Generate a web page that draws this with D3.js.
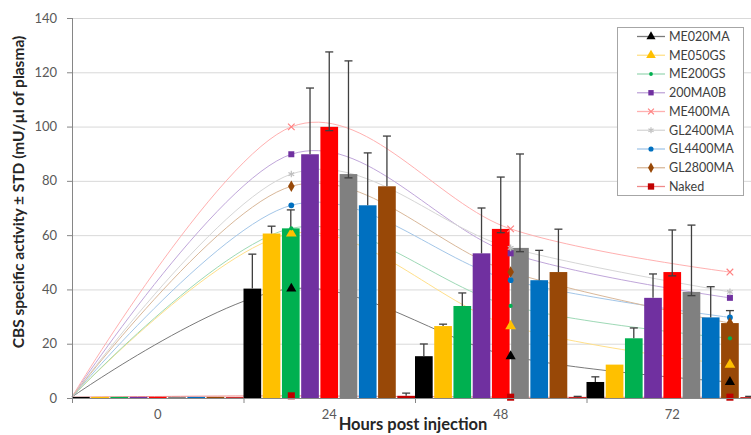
<!DOCTYPE html>
<html><head><meta charset="utf-8">
<script src="https://cdn.jsdelivr.net/npm/d3@7"></script>
<style>
body{margin:0;background:#fff}
svg{display:block}
text{font-family:Lato,"Open Sans",sans-serif}
</style>
</head><body>
<svg id="chart" width="751" height="435"></svg>
<script>
// ---------- data ----------
const hours = [0, 24, 48, 72];
const hourLabels = ["0", "24", "48", "72"];
const seriesNames = ["ME020MA","ME050GS","ME200GS","200MA0B","ME400MA","GL2400MA","GL4400MA","GL2800MA","Naked"];

const meanME020MA  = [0.4, 40.3, 15.4, 5.9];
const meanME050GS  = [0.4, 60.6, 26.5, 12.3];
const meanME200GS  = [0.4, 62.5, 33.9, 22.0];
const mean200MA0B  = [0.4, 89.8, 53.3, 36.9];
const meanME400MA  = [0.4, 99.9, 62.3, 46.4];
const meanGL2400MA = [0.4, 82.5, 55.3, 39.1];
const meanGL4400MA = [0.4, 71.0, 43.4, 29.7];
const meanGL2800MA = [0.4, 78.0, 46.4, 27.6];
const meanNaked    = [0.3, 0.8, 0.3, 0.3];

const stdME020MA  = [0, 12.7, 4.5, 1.9];
const stdME050GS  = [0, 2.7, 0.7, 0];
const stdME200GS  = [0, 6.8, 4.8, 3.8];
const std200MA0B  = [0, 24.4, 16.7, 8.8];
const stdME400MA  = [0, 27.6, 19.1, 15.5];
const stdGL2400MA = [0, 41.7, 34.6, 24.6];
const stdGL4400MA = [0, 19.3, 11.0, 11.3];
const stdGL2800MA = [0, 18.5, 15.8, 4.6];
const stdNaked    = [0, 1.0, 0.3, 0.3];

const yTicks = [0, 20, 40, 60, 80, 100, 120, 140];

// ---------- style ----------
const means = [meanME020MA,meanME050GS,meanME200GS,mean200MA0B,meanME400MA,meanGL2400MA,meanGL4400MA,meanGL2800MA,meanNaked];
const stds  = [stdME020MA,stdME050GS,stdME200GS,std200MA0B,stdME400MA,stdGL2400MA,stdGL4400MA,stdGL2800MA,stdNaked];
const barColors  = ["#000000","#FFC000","#00B050","#7030A0","#FF0000","#808080","#0070C0","#984807","#C00000"];
const lineColors = ["#7a7a7a","#FFE08A","#9ED9B6","#C0A6DA","#FFB0B0","#D6D6D6","#A3C6E8","#D9B89A","#F08A8A"];
const markerColors = ["#000000","#FFC000","#00B050","#7030A0","#FF8080","#BFBFBF","#0070C0","#984807","#C00000"];
const markerTypes = ["triangle","triangle","circle","square","times","asterisk","circle","diamond","square"];
const markerSizes = [45, 50, 14, 36, 30, 30, 26, 38, 50];
const capBelow = ["ME400MA","GL2400MA"];

const svg = d3.select("#chart");
const pLeft = 72, pRight = 758, pTop = 18, pBottom = 398;

const y = d3.scaleLinear().domain([0, 140]).range([pBottom, pTop]);
const x0 = d3.scaleBand().domain(hourLabels).range([pLeft, pRight]).padding(0);
const x1 = d3.scaleBand().domain(seriesNames).range([0, x0.bandwidth()]).paddingInner(0.08).paddingOuter(0);
const lx = d3.scaleLinear().domain([0, 72])
  .range([pLeft, x0("72") + x1("GL2800MA") + x1.bandwidth() / 2]);

// gridlines
svg.append("g").selectAll("line").data(yTicks.filter(t => t > 0)).join("line")
  .attr("x1", pLeft).attr("x2", 751)
  .attr("y1", d => y(d) + 0.5).attr("y2", d => y(d) + 0.5)
  .attr("stroke", "#d9d9d9").attr("stroke-width", 1);

// smoothed lines (behind bars)
const lineGen = d3.line()
  .x((v, i) => lx(hours[i]))
  .y(v => y(v))
  .curve(d3.curveCatmullRom.alpha(0));
svg.append("g").selectAll("path").data(seriesNames).join("path")
  .attr("d", (s, k) => lineGen(means[k]))
  .attr("fill", "none")
  .attr("stroke", (s, k) => lineColors[k])
  .attr("stroke-width", 1);

// bars
const barData = [];
seriesNames.forEach((s, k) => hours.forEach((h, i) =>
  barData.push({s, k, i, v: means[k][i], e: stds[k][i]})));
svg.append("g").selectAll("rect").data(barData).join("rect")
  .attr("x", d => x0(hourLabels[d.i]) + x1(d.s))
  .attr("width", x1.bandwidth())
  .attr("y", d => y(d.v))
  .attr("height", d => y(0) - y(d.v))
  .attr("fill", d => barColors[d.k]);

// error bars
const eb = svg.append("g").attr("stroke", "#3f3f3f").attr("stroke-width", 1.3);
barData.filter(d => d.e > 0).forEach(d => {
  const cx = x0(hourLabels[d.i]) + x1(d.s) + x1.bandwidth() / 2;
  const lowV = capBelow.includes(d.s) ? d.v - 1.4 : d.v;
  eb.append("line").attr("x1", cx).attr("x2", cx).attr("y1", y(lowV)).attr("y2", y(d.v + d.e));
  eb.append("line").attr("x1", cx - 4).attr("x2", cx + 4).attr("y1", y(d.v + d.e)).attr("y2", y(d.v + d.e));
  if (capBelow.includes(d.s))
    eb.append("line").attr("x1", cx - 4).attr("x2", cx + 4).attr("y1", y(lowV)).attr("y2", y(lowV));
});

// markers
function symType(t) {
  return {triangle: d3.symbolTriangle, circle: d3.symbolCircle, square: d3.symbolSquare,
          diamond: d3.symbolDiamond, times: d3.symbolTimes || d3.symbolX || d3.symbolCross,
          asterisk: d3.symbolAsterisk || d3.symbolCross}[t];
}
function strokeSym(t) { return t === "times" || t === "asterisk"; }
function drawMarker(g, k, cx, cy, scale) {
  const t = markerTypes[k];
  const p = d3.symbol().type(symType(t)).size(markerSizes[k] * (scale || 1))();
  const m = g.append("path").attr("d", p).attr("transform", `translate(${cx},${cy})`);
  if (strokeSym(t)) m.attr("fill", "none").attr("stroke", markerColors[k]).attr("stroke-width", 1.2);
  else m.attr("fill", markerColors[k]);
}
const mg = svg.append("g");
seriesNames.forEach((s, k) => hours.forEach((h, i) => {
  if (h > 0) drawMarker(mg, k, lx(h), y(means[k][i]));
}));

// y axis
svg.append("line").attr("x1", pLeft + 0.5).attr("x2", pLeft + 0.5).attr("y1", pTop).attr("y2", pBottom)
  .attr("stroke", "#868686");
svg.append("g").selectAll("line").data(yTicks).join("line")
  .attr("x1", pLeft - 5).attr("x2", pLeft).attr("y1", d => y(d) + 0.5).attr("y2", d => y(d) + 0.5)
  .attr("stroke", "#868686");
svg.append("g").selectAll("text").data(yTicks).join("text")
  .attr("x", pLeft - 15).attr("y", d => y(d)).attr("dy", "0.35em")
  .attr("text-anchor", "end").attr("font-size", 13).attr("fill", "#595959")
  .text(d => d);

// x axis
svg.append("line").attr("x1", pLeft).attr("x2", 751).attr("y1", pBottom + 0.5).attr("y2", pBottom + 0.5)
  .attr("stroke", "#868686");
svg.append("g").selectAll("line").data(hourLabels).join("line")
  .attr("x1", d => x0(d) + 0.5).attr("x2", d => x0(d) + 0.5).attr("y1", pBottom).attr("y2", pBottom + 5)
  .attr("stroke", "#868686");
svg.append("g").selectAll("text").data(hourLabels).join("text")
  .attr("x", d => x0(d) + x0.bandwidth() / 2).attr("y", 419)
  .attr("text-anchor", "middle").attr("font-size", 13).attr("fill", "#595959")
  .text(d => d);

// titles
svg.append("text").attr("x", 413).attr("y", 430).attr("text-anchor", "middle")
  .attr("font-size", 16.5).attr("font-weight", "bold").attr("fill", "#262626")
  .text("Hours post injection");
svg.append("text").attr("transform", "translate(24,192) rotate(-90)").attr("text-anchor", "middle")
  .attr("font-size", 15.5).attr("font-weight", "bold").attr("fill", "#262626")
  .text("CBS specific activity ± STD (mU/µl of plasma)");

// legend
const lg = svg.append("g");
lg.append("rect").attr("x", 617.5).attr("y", 27.5).attr("width", 126).attr("height", 168)
  .attr("fill", "#fff").attr("stroke", "#a6a6a6");
seriesNames.forEach((s, k) => {
  const ly = 36.5 + k * 18.75;
  lg.append("line").attr("x1", 637).attr("x2", 665).attr("y1", ly).attr("y2", ly)
    .attr("stroke", lineColors[k]).attr("stroke-width", 1.3);
  drawMarker(lg, k, 651, ly, 0.8);
  lg.append("text").attr("x", 669).attr("y", ly).attr("dy", "0.35em")
    .attr("font-size", 12.5).attr("fill", "#404040").text(s);
});
</script>
</body></html>
